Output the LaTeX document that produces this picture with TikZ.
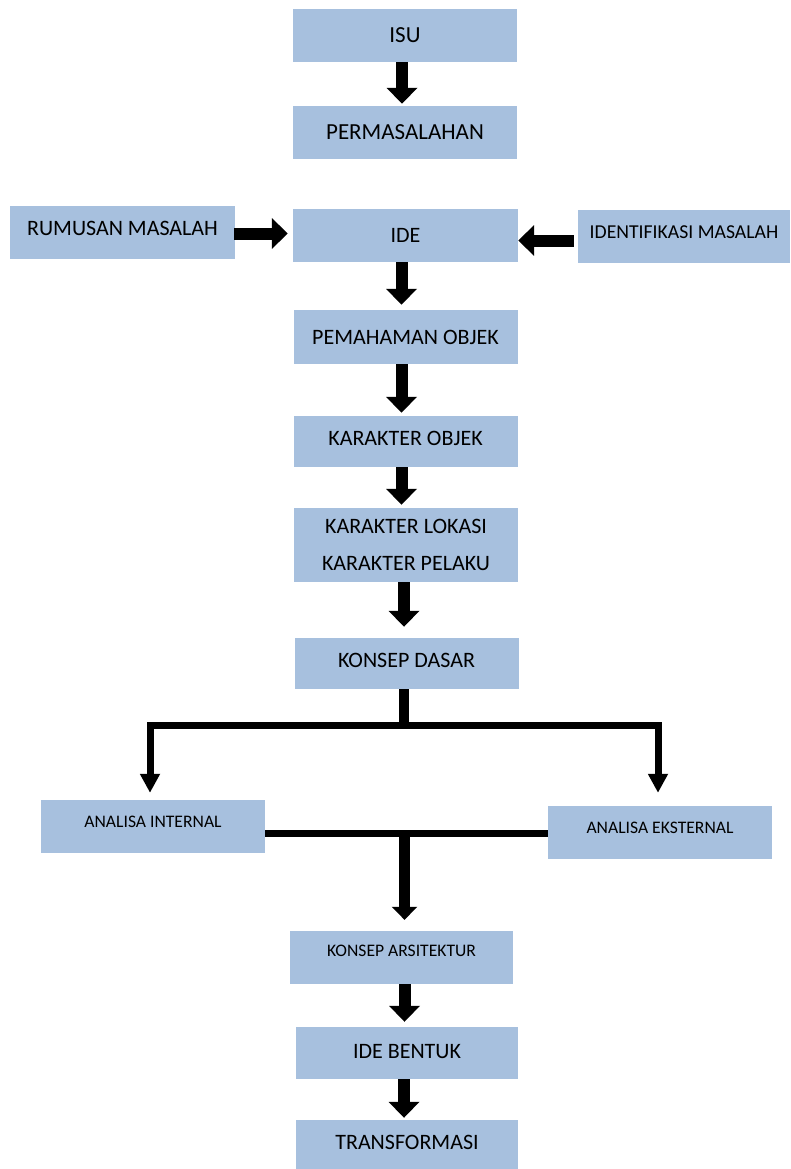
\documentclass[tikz,border=0pt]{standalone}
\usepackage{fontspec}
\setmainfont{Carlito}
\usetikzlibrary{arrows.meta}

\definecolor{boxblue}{RGB}{167,192,222}

\tikzset{
  box/.style={fill=boxblue, minimum width=224pt, minimum height=53pt, inner sep=0pt, font=\fontsize{22}{26}\selectfont},
  smallbox/.style={box, font=\fontsize{17.6}{20}\selectfont},
  raise/.style={text depth=#1},
  flow/.style={line width=12pt, -{Triangle[width=30pt,length=16pt]}},
  stem/.style={line width=10pt},
  branch/.style={line width=7pt, -{Triangle[width=19pt,length=19pt]}},
  bar/.style={line width=7pt},
  drop/.style={line width=11pt, -{Triangle[width=25pt,length=13pt]}}
}

\begin{document}
\begin{tikzpicture}[x=1pt,y=-1pt]
\useasboundingbox (0,0) rectangle (790,1169);

% main column
\node[box, font=\fontsize{23}{26}\selectfont] (isu) at (405,35.5) {ISU};
\node[box, font=\fontsize{23}{26}\selectfont] (perm) at (405,132.5) {PERMASALAHAN};
\node[box, minimum width=225pt, font=\fontsize{22}{24}\selectfont, raise=8pt] (rumusan) at (122.5,232.5) {RUMUSAN MASALAH};
\node[box, minimum width=225pt] (ide) at (405.5,235.5) {IDE};
\node[box, minimum width=212pt, font=\fontsize{19.7}{22}\selectfont, raise=8pt] (ident) at (684,236.5) {IDENTIFIKASI MASALAH};
\node[box, minimum height=54pt] (pem) at (405.5,337) {PEMAHAMAN OBJEK};
\node[box, minimum height=51pt, raise=6pt] (kobj) at (405.5,441.5) {KARAKTER OBJEK};
\node[box, minimum height=74pt, align=center, font=\fontsize{22}{37}\selectfont] (klok) at (406,545) {KARAKTER LOKASI\\KARAKTER PELAKU};
\node[box, minimum height=51pt, raise=6pt] (kd) at (406.5,663.5) {KONSEP DASAR};

% analysis
\node[smallbox, raise=9pt] (ai) at (153,826.5) {ANALISA INTERNAL};
\node[smallbox, raise=9pt] (ae) at (660,832.5) {ANALISA EKSTERNAL};
\node[smallbox, minimum width=223pt, raise=14pt] (ka) at (401.5,957.5) {KONSEP ARSITEKTUR};
\node[box, minimum width=222pt, minimum height=52pt, raise=4pt] (ib) at (407,1053) {IDE BENTUK};
\node[box, minimum width=222pt, raise=8pt] (tr) at (407,1146.5) {TRANSFORMASI};

% arrows
\draw[flow, shorten >=2pt] ([xshift=-3pt]isu.south) -- ([xshift=-3pt]isu.south |- perm.north);
\draw[flow, shorten <=-1pt, shorten >=5pt] ([yshift=-1pt]rumusan.east) -- ([yshift=-1pt]rumusan.east -| ide.west);
\draw[flow, shorten <=4pt] ([yshift=-4pt]ident.west) -- ([yshift=-4pt]ident.west -| ide.east);
\draw[flow, shorten >=5pt] ([xshift=-4pt]ide.south) -- ([xshift=-4pt]ide.south |- pem.north);
\draw[flow, shorten >=3pt] ([xshift=-4pt]pem.south) -- ([xshift=-4pt]pem.south |- kobj.north);
\draw[flow, shorten >=3pt] ([xshift=-4pt]kobj.south) -- ([xshift=-4pt]kobj.south |- klok.north);
\draw[flow, shorten >=11pt] ([xshift=-2pt]klok.south) -- ([xshift=-2pt]klok.south |- kd.north);

% fork
\draw[stem] ([xshift=-3pt]kd.south) -- ++(0,36) coordinate (fork);
\draw[branch, shorten >=7pt] ([xshift=1pt]fork) -| ([xshift=-3pt]ai.north);
\draw[branch, shorten >=13pt] ([xshift=-1pt]fork) -| ([xshift=-2pt]ae.north);

% join
\draw[bar] ([yshift=-1pt]ai.east |- ae.west) -- ([yshift=-1pt]ae.west);
\draw[drop, shorten <=-3pt, shorten >=11pt] ([xshift=3pt,yshift=-1pt]ka.north |- ae.west) -- ([xshift=3pt]ka.north);
\draw[flow, shorten >=5pt] ([xshift=3pt]ka.south) -- ([xshift=3pt]ka.south |- ib.north);
\draw[flow, shorten >=2pt] ([xshift=-3pt]ib.south) -- ([xshift=-3pt]ib.south |- tr.north);
\end{tikzpicture}
\end{document}
